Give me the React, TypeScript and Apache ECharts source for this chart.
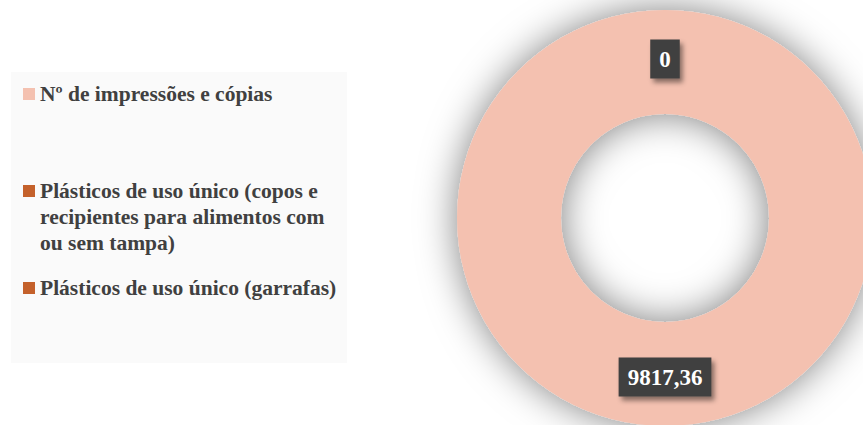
import React, { useEffect, useRef } from "react";
import * as echarts from "echarts";

const categories = [
  "Nº de impressões e cópias",
  "Plásticos de uso único (copos e recipientes para alimentos com ou sem tampa)",
  "Plásticos de uso único (garrafas)",
];
const legendLabels = [
  "Nº de impressões e cópias",
  "\n\nPlásticos de uso único (copos e\nrecipientes para alimentos com\nou sem tampa)",
  "Plásticos de uso único (garrafas)",
];
const values = [9817.36, 0, 0];
const colors = ["#F4C1B0", "#C4612B", "#C4612B"];

const FONT = "'Liberation Serif', 'Times New Roman', serif";

export default function App() {
  const ref = useRef<HTMLDivElement>(null);
  useEffect(() => {
    if (!ref.current) return;
    const chart = echarts.init(ref.current, undefined, { renderer: "svg" });
    const legendTops = [81, 126, 275];
    const legends = categories.map((name, i) => ({
      show: true,
      orient: "vertical" as const,
      left: 23,
      top: legendTops[i],
      padding: 0,
      itemWidth: 12,
      itemHeight: 12,
      icon: "rect",
      data: [name],
      selectedMode: false,
      formatter: (n: string) => legendLabels[categories.indexOf(n)],
      textStyle: {
        color: "#404040",
        fontFamily: FONT,
        fontWeight: "bold" as const,
        fontSize: 21.5,
        lineHeight: 26,
      },
    }));
    chart.setOption({
      animation: false,
      backgroundColor: "#ffffff",
      color: colors,
      graphic: [
        {
          type: "rect",
          left: 11,
          top: 72,
          z: -10,
          shape: { width: 336, height: 291 },
          style: { fill: "#FAFAFA" },
        },
      ],
      legend: legends,
      series: [
        {
          type: "pie",
          center: [665, 218],
          radius: [104, 208],
          startAngle: 90,
          clockwise: true,
          silent: true,
          avoidLabelOverlap: false,
          labelLayout: { hideOverlap: true },
          data: categories.map((name, i) => ({
            name,
            value: values[i],
            itemStyle: { color: colors[i] },
          })),
          itemStyle: {
            shadowBlur: 38,
            shadowColor: "rgba(0,0,0,0.5)",
            shadowOffsetX: 0,
            shadowOffsetY: 0,
          },
          label: {
            show: true,
            position: "inside",
            formatter: (p: any) => String(p.value).replace(".", ","),
            color: "#ffffff",
            fontFamily: FONT,
            fontWeight: "bold",
            fontSize: 23,
            backgroundColor: "#3F3F3F",
            padding: [8, 9, 8, 9],
            shadowColor: "rgba(0,0,0,0.45)",
            shadowBlur: 5,
            shadowOffsetX: 3,
            shadowOffsetY: 4,
          },
          labelLine: { show: false },
        },
      ],
    });
    return () => chart.dispose();
  }, []);
  return (
    <div
      ref={ref}
      style={{ position: "absolute", left: 0, top: 0, width: 863, height: 425 }}
    />
  );
}
